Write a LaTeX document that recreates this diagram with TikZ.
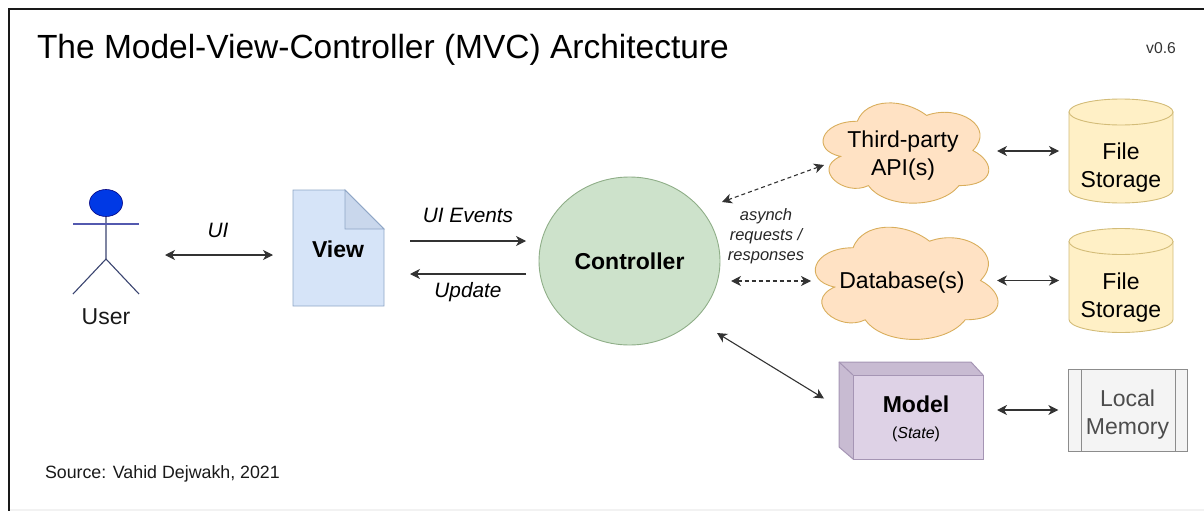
\documentclass[tikz,border=0pt]{standalone}
\usepackage{fontspec}
\setmainfont{Liberation Sans}
\usetikzlibrary{shapes.geometric, shapes.multipart, arrows.meta}
\definecolor{viewfill}{HTML}{D6E4F8}
\definecolor{viewfold}{HTML}{C9D7EC}
\definecolor{viewline}{HTML}{8FA6C6}
\definecolor{ctrlfill}{HTML}{CDE2CB}
\definecolor{ctrlline}{HTML}{8FAE88}
\definecolor{cloudfill}{HTML}{FFE2C4}
\definecolor{cloudline}{HTML}{D9AE5C}
\definecolor{storefill}{HTML}{FFF0C6}
\definecolor{storeline}{HTML}{D3BC78}
\definecolor{modelfill}{HTML}{DED2E6}
\definecolor{modelside}{HTML}{C8BBD2}
\definecolor{modelline}{HTML}{A595B4}
\definecolor{memfill}{HTML}{F4F4F4}
\definecolor{memline}{HTML}{8C8C8C}
\definecolor{userline}{HTML}{3A4470}
\tikzset{
    biarrow/.style={{Stealth[length=10pt,width=10pt,inset=3pt]}-{Stealth[length=10pt,width=10pt,inset=3pt]}, line width=1.1pt, draw=black!80},
    onearrow/.style={-{Stealth[length=10pt,width=10pt,inset=3pt]}, line width=1.1pt, draw=black!80},
    dasharrow/.style={biarrow, dash pattern=on 4pt off 3pt},
    plainbox/.style={inner sep=0pt, outer sep=0pt},
    cloudline/.style={draw=cloudline, fill=cloudfill, line width=0.9pt},
    storeline/.style={draw=storeline, fill=storefill, line width=0.9pt},
    bigtext/.style={plainbox, align=center, font=\fontsize{23}{28}\selectfont},
    boldtext/.style={plainbox, font=\fontsize{23}{28}\selectfont\bfseries},
    labeltext/.style={plainbox, font=\fontsize{20.8}{25}\selectfont\itshape}
}
% cloud outline, first two arguments are the corner, then width and height
\newcommand{\cloudoutline}[4]{
    \draw [cloudline, shift={(#1,#2)}, x=#3pt, y=-#4pt]
        (0.25,0.25) .. controls (0.05,0.25) and (0,0.5) .. (0.16,0.55)
        .. controls (0,0.66) and (0.18,0.9) .. (0.31,0.8)
        .. controls (0.4,1) and (0.7,1) .. (0.8,0.8)
        .. controls (1,0.8) and (1,0.6) .. (0.875,0.5)
        .. controls (1,0.3) and (0.8,0.1) .. (0.625,0.2)
        .. controls (0.5,0.05) and (0.3,0.05) .. cycle;
}
% storage drum, the argument is the centre
\newcommand{\storeoutline}[2]{
    \draw [storeline, shift={(#1,#2)}] (-52,-39) -- (-52,39) arc [start angle=180, end angle=0, x radius=52, y radius=13] -- (52,-39) -- cycle;
    \draw [storeline, shift={(#1,#2)}] (0,-39) ellipse [x radius=52, y radius=13];
}
\begin{document}
\begin{tikzpicture}[x=1pt,y=-1pt]
    \useasboundingbox (0,0) rectangle (1204,511);
    % frame
    \fill [black!5] (9,509) rectangle (1204,511);
    \draw [line width=1.3pt, black!90] (9,511) -- (9,9) -- (1204,9);

    \node [plainbox, anchor=base west, font=\fontsize{33.5}{36}\selectfont] (title) at (37,59) {The Model-View-Controller (MVC) Architecture};
    \node [plainbox, font=\fontsize{15.7}{18}\selectfont, black!80] (version) at (1161,48) {v0.6};
    \node [plainbox, anchor=west, font=\fontsize{17.8}{20}\selectfont, black!90] (source) at (45,474) {Source: Vahid Dejwakh, 2021};

    % user
    \node [plainbox, minimum width=66pt, minimum height=90pt] (actor) at (106,249) {};
    \node [ellipse, plainbox, minimum width=33pt, minimum height=27pt, fill=blue!75!cyan!90!black, draw=blue!50!black, line width=0.6pt] (head) at (106,203) {};
    \coordinate (hip) at (106,259);
    \draw [line width=1.1pt, userline] (head.south) -- (hip) -- (actor.south west);
    \draw [line width=1.1pt, userline] (hip) -- (actor.south east);
    \draw [line width=1.2pt, userline!70!blue!80!white] (73,224) -- (139,224);
    \node [bigtext, black!90] (user) at (106,317) {User};

    % view
    \draw [viewline, fill=viewfill, line width=0.9pt] (293,190) -- (345,190) -- (384,229) -- (384,306) -- (293,306) -- cycle;
    \draw [viewline, fill=viewfold, line width=0.9pt] (345,190) -- (345,229) -- (384,229) -- cycle;
    \node [plainbox, minimum width=91pt, minimum height=116pt] (view) at (338.5,248) {};
    \node [boldtext] (viewtext) at (338,249) {View};

    % controller
    \node [ellipse, plainbox, minimum width=181pt, minimum height=168pt, draw=ctrlline, fill=ctrlfill, line width=0.9pt, boldtext] (controller) at (629.5,261) {Controller};

    % clouds
    \cloudoutline{811}{92}{185}{117}
    \cloudoutline{802}{215}{204}{131}
    \node [plainbox, minimum width=165pt, minimum height=100pt] (api) at (905.5,153) {};
    \node [plainbox, minimum width=182pt, minimum height=112pt] (database) at (906,283) {};
    \node [bigtext] (apitext) at (903,155.5) {Third-party\\API(s)};
    \node [bigtext] (databasetext) at (902,283) {Database(s)};

    % storage
    \storeoutline{1121}{151}
    \storeoutline{1121}{280.5}
    \node [plainbox, minimum width=104pt, minimum height=104pt] (filesa) at (1121,151) {};
    \node [plainbox, minimum width=104pt, minimum height=104pt] (filesb) at (1121,280.5) {};
    \node [bigtext] (filesatext) at (1121,168) {File\\Storage};
    \node [bigtext] (filesbtext) at (1121,297.5) {File\\Storage};

    % model
    \draw [modelline, fill=modelside, line width=1pt] (839,362) -- (971,362) -- (983,375) -- (983,459) -- (853,459) -- (839,447) -- cycle;
    \draw [modelline, fill=modelfill, line width=1pt] (853,375) rectangle (983,459);
    \draw [modelline, line width=1pt] (839,362) -- (853,375);
    \node [plainbox, minimum width=144pt, minimum height=97pt] (model) at (911,410.5) {};
    \node [boldtext] (modeltext) at (916,404) {Model};
    \node [plainbox, font=\fontsize{16}{19}\selectfont] (statetext) at (916,434) {(\textit{State})};

    % local memory
    \node [rectangle split, rectangle split horizontal, rectangle split parts=3, plainbox, draw=memline, rectangle split part fill={memfill}, line width=0.9pt, minimum height=82pt] (memory) at (1128,410)
        {\nodepart{one}\rule{12.5pt}{0pt}\nodepart{two}\rule{93pt}{0pt}\nodepart{three}\rule{12pt}{0pt}};
    \node [bigtext, black!70] (memorytext) at (1127.5,415) {Local\\Memory};

    % connectors
    \draw [biarrow] ([xshift=26pt,yshift=-6pt]actor.east) -- ([xshift=-20pt,yshift=-7pt]view.west);
    \node [labeltext] (uilabel) at (218,230) {UI};
    \draw [onearrow] ([xshift=26pt,yshift=7pt]view.east) -- ([xshift=-13pt,yshift=20pt]controller.west);
    \node [labeltext] (eventslabel) at (468,215) {UI Events};
    \draw [onearrow] ([xshift=-13pt,yshift=-13pt]controller.west) -- ([xshift=26pt,yshift=-26pt]view.east);
    \node [labeltext] (updatelabel) at (468,292) {Update};
    \draw [dasharrow] ([xshift=2pt,yshift=59pt]controller.east) -- ([xshift=1pt,yshift=-12pt]api.west);
    \draw [dasharrow] ([xshift=11pt,yshift=-20pt]controller.east) -- ([xshift=-4pt,yshift=2pt]database.west);
    \node [plainbox, align=center, font=\fontsize{16.5}{20}\selectfont\itshape, black!85] (asynch) at (766,236) {asynch\\requests /\\responses};
    \draw [biarrow] ([xshift=-3pt,yshift=-72pt]controller.east) -- ([xshift=-15pt,yshift=12pt]model.west);
    \draw [biarrow] ([xshift=9pt,yshift=2pt]api.east) -- ([xshift=-10pt]filesa.west);
    \draw [biarrow] ([yshift=2.5pt]database.east) -- ([xshift=-10pt]filesb.west);
    \draw [biarrow] ([xshift=14pt,yshift=0.5pt]model.east) -- ([xshift=-10pt]memory.west);
\end{tikzpicture}
\end{document}
